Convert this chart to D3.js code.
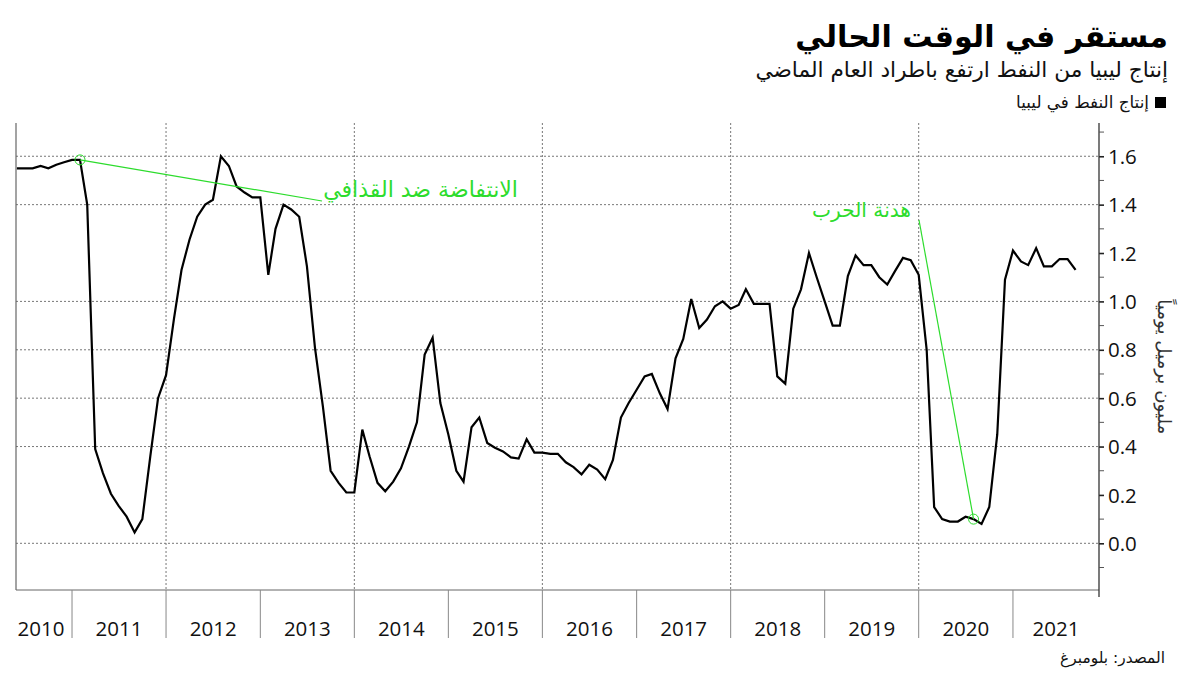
<!DOCTYPE html>
<html><head><meta charset="utf-8">
<script src="https://cdn.jsdelivr.net/npm/d3@7"></script>
<style>body{margin:0;background:#fff} svg{display:block}</style>
</head><body>
<svg id="chart" width="1200" height="675"></svg>
<script>
// ---------- DATA ----------
const firstMonth = "2010-06";   // monthly series, one value per month
const oilProduction = [
  1.55,1.55,1.55,1.56,1.55,1.565,1.575,1.585,            // Jun 2010 - Jan 2011
  1.585,1.40,0.39,0.29,0.205,0.155,0.11,0.045,0.10,0.36,0.60, // Feb - Dec 2011
  0.695,0.93,1.13,1.255,1.35,1.40,1.42,1.60,1.56,1.475,1.45,1.43,   // 2012
  1.43,1.11,1.30,1.40,1.38,1.35,1.145,0.81,0.565,0.30,0.25,0.21,    // 2013
  0.21,0.47,0.36,0.25,0.215,0.255,0.31,0.40,0.50,0.78,0.85,0.58,    // 2014
  0.45,0.30,0.255,0.48,0.52,0.415,0.395,0.38,0.355,0.35,0.43,0.375, // 2015
  0.375,0.37,0.37,0.335,0.315,0.285,0.325,0.305,0.265,0.345,0.52,0.58, // 2016
  0.635,0.69,0.70,0.62,0.555,0.765,0.845,1.01,0.89,0.925,0.98,1.00, // 2017
  0.97,0.985,1.05,0.99,0.99,0.99,0.69,0.66,0.97,1.05,1.20,1.10,     // 2018
  1.00,0.90,0.90,1.105,1.19,1.15,1.15,1.10,1.07,1.125,1.18,1.17,    // 2019
  1.11,0.80,0.15,0.10,0.09,0.09,0.11,0.10,0.08,0.15,0.45,1.09,      // 2020
  1.21,1.165,1.15,1.22,1.145,1.145,1.175,1.175,1.13                 // Jan - Sep 2021
];
const xDomain = ["2010-06","2021-12"];
const yTickValues = [0,0.2,0.4,0.6,0.8,1.0,1.2,1.4,1.6];
const yMinorTickValues = [-0.1,0.1,0.3,0.5,0.7,0.9,1.1,1.3,1.5,1.7];
const yGridValues = [0,0.4,0.6,0.8,1.0,1.4,1.6];
const yearGridYears = [2012,2014,2016,2018,2020];
const annotationMonths = ["2011-02","2020-08"];
const annotationTexts = ["الانتفاضة ضد القذافي","هدنة الحرب"];
const titleText = "مستقر في الوقت الحالي";
const subtitleText = "إنتاج ليبيا من النفط ارتفع باطراد العام الماضي";
const legendText = "إنتاج النفط في ليبيا";
const unitText = "مليون برميل يومياً";
const sourceText = "المصدر: بلومبرغ";

// ---------- SETUP ----------
const svg = d3.select("#chart");
const parseM = d3.timeParse("%Y-%m");
const months = oilProduction.map((v,i)=>d3.timeMonth.offset(parseM(firstMonth), i));
const series = oilProduction.map((v,i)=>({date:months[i], value:v}));

const L = 16, R = 1099, T = 123, B = 590;
const x = d3.scaleTime().domain(xDomain.map(parseM)).range([L+0.9, R]);
const y = d3.scaleLinear().domain([-0.193, 1.7375]).range([B, T]);

const arabicFont = "'DejaVu Sans', 'Noto Sans', sans-serif";
const numFont = "'Open Sans', 'Liberation Sans', sans-serif";
const green = "#2ddc2d";

function fitWidth(sel, target){
  const fs = parseFloat(sel.attr("font-size"));
  const w = sel.node().getComputedTextLength();
  sel.attr("font-size", fs*target/w);
}

// ---------- GRID ----------
svg.append("g").selectAll("line").data(yGridValues).join("line")
  .attr("x1", L).attr("x2", R).attr("y1", d=>y(d)).attr("y2", d=>y(d))
  .attr("stroke", "#777").attr("stroke-width", 1).attr("stroke-dasharray", "2,2");
svg.append("g").selectAll("line").data(yearGridYears).join("line")
  .attr("x1", d=>x(new Date(d,0,1))).attr("x2", d=>x(new Date(d,0,1)))
  .attr("y1", T).attr("y2", B)
  .attr("stroke", "#777").attr("stroke-width", 1).attr("stroke-dasharray", "2,2");

// ---------- FRAME ----------
svg.append("line").attr("x1", L).attr("x2", L).attr("y1", T).attr("y2", B)
  .attr("stroke", "#666").attr("stroke-width", 1.2);
svg.append("line").attr("x1", L).attr("x2", R).attr("y1", B).attr("y2", B)
  .attr("stroke", "#666").attr("stroke-width", 1);

// ---------- RIGHT AXIS ----------
const yAxis = d3.axisRight(y).tickValues(yTickValues).tickSize(5).tickPadding(4)
  .tickFormat(d3.format(".1f"));
const gy = svg.append("g").attr("transform", `translate(${R},0)`).call(yAxis);
gy.select(".domain").remove();
gy.selectAll(".tick line").attr("stroke", "#222").attr("stroke-width", 1.6);
gy.selectAll(".tick text").attr("font-family", numFont).attr("font-size", 20.5)
  .attr("fill", "#111").attr("dy", "0.35em");
svg.append("line").attr("x1", R).attr("x2", R).attr("y1", T).attr("y2", B+7)
  .attr("stroke", "#333").attr("stroke-width", 1.3);
svg.append("g").selectAll("line").data(yMinorTickValues).join("line")
  .attr("x1", R).attr("x2", R+5).attr("y1", d=>y(d)).attr("y2", d=>y(d))
  .attr("stroke", "#555").attr("stroke-width", 1);

const unit = svg.append("text").text(unitText)
  .attr("font-family", arabicFont).attr("font-size", 14).attr("fill", "#333")
  .attr("text-anchor", "middle")
  .attr("transform", `translate(1158,${y(0.73)}) rotate(90)`);
fitWidth(unit, 135);

// ---------- X AXIS (year bands) ----------
const years = d3.range(2010, 2022);
const bandStart = yr => Math.max(L, x(new Date(yr,0,1)));
const bandEnd = yr => Math.min(R, x(new Date(yr+1,0,1)));
svg.append("g").selectAll("line").data(years.slice(1)).join("line")
  .attr("x1", d=>x(new Date(d,0,1))).attr("x2", d=>x(new Date(d,0,1)))
  .attr("y1", B).attr("y2", B+48).attr("stroke", "#888").attr("stroke-width", 1);
svg.append("g").selectAll("text").data(years).join("text")
  .attr("x", d=>(bandStart(d)+bandEnd(d))/2 - (d===2010?3:0))
  .attr("y", 636).attr("text-anchor", "middle")
  .attr("font-family", numFont).attr("font-size", 20.5).attr("fill", "#111")
  .text(d=>d);

// ---------- LINE ----------
const line = d3.line().x(d=>x(d.date)).y(d=>y(d.value));
svg.append("path").datum(series).attr("d", line)
  .attr("fill", "none").attr("stroke", "#000").attr("stroke-width", 2.2)
  .attr("stroke-linejoin", "miter");

// ---------- ANNOTATIONS ----------
const annPts = annotationMonths.map(m => series.find(s => +s.date === +parseM(m)));
// 1: uprising
{
  const p = annPts[0];
  svg.append("line").attr("x1", x(p.date)).attr("y1", y(p.value))
    .attr("x2", 322).attr("y2", 201).attr("stroke", green).attr("stroke-width", 1.2);
  svg.append("circle").attr("cx", x(p.date)).attr("cy", y(p.value)).attr("r", 5)
    .attr("fill", "none").attr("stroke", green).attr("stroke-width", 1);
  const t = svg.append("text").text(annotationTexts[0]).attr("x", 518).attr("y", 197)
    .attr("direction", "rtl").attr("text-anchor", "start")
    .attr("font-family", arabicFont).attr("font-size", 18).attr("fill", green);
  fitWidth(t, 195);
}
// 2: truce
{
  const p = annPts[1];
  svg.append("line").attr("x1", x(p.date)).attr("y1", y(p.value))
    .attr("x2", 919).attr("y2", 220).attr("stroke", green).attr("stroke-width", 1.2);
  svg.append("circle").attr("cx", x(p.date)).attr("cy", y(p.value)).attr("r", 5)
    .attr("fill", "none").attr("stroke", green).attr("stroke-width", 1);
  const t = svg.append("text").text(annotationTexts[1]).attr("x", 911).attr("y", 217)
    .attr("direction", "rtl").attr("text-anchor", "start")
    .attr("font-family", arabicFont).attr("font-size", 18).attr("fill", green);
  fitWidth(t, 99);
}

// ---------- TITLES ----------
const title = svg.append("text").text(titleText).attr("x", 1168).attr("y", 47)
  .attr("direction", "rtl").attr("text-anchor", "start")
  .attr("font-family", arabicFont).attr("font-weight", "bold").attr("font-size", 34).attr("fill", "#000");
fitWidth(title, 373);
const sub = svg.append("text").text(subtitleText).attr("x", 1168).attr("y", 77)
  .attr("direction", "rtl").attr("text-anchor", "start")
  .attr("font-family", arabicFont).attr("font-size", 22).attr("fill", "#111");
fitWidth(sub, 413);
svg.append("rect").attr("x", 1155).attr("y", 97).attr("width", 11).attr("height", 11).attr("fill", "#000");
const leg = svg.append("text").text(legendText).attr("x", 1149).attr("y", 108)
  .attr("direction", "rtl").attr("text-anchor", "start")
  .attr("font-family", arabicFont).attr("font-size", 15).attr("fill", "#111");
fitWidth(leg, 133);
const src = svg.append("text").text(sourceText).attr("x", 1165).attr("y", 663)
  .attr("direction", "rtl").attr("text-anchor", "start")
  .attr("font-family", arabicFont).attr("font-size", 15).attr("fill", "#111");
fitWidth(src, 105);
</script>
</body></html>
